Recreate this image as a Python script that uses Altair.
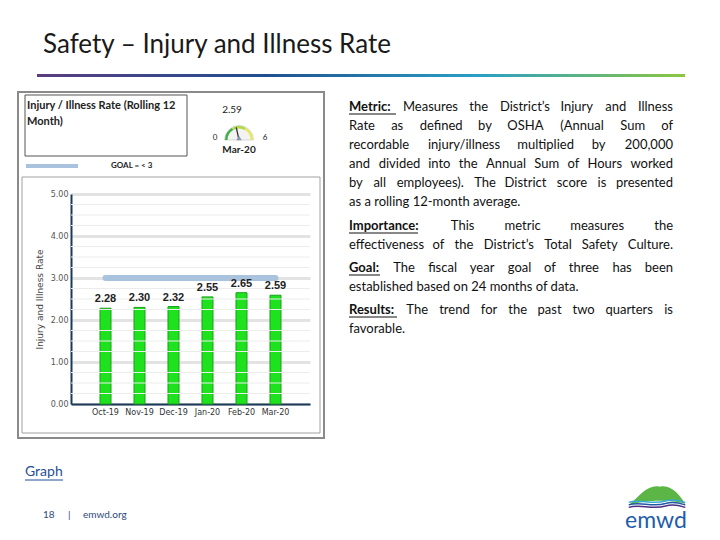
import math
import altair as alt
import pandas as pd

# ---------------- data ----------------
months = ["Oct-19", "Nov-19", "Dec-19", "Jan-20", "Feb-20", "Mar-20"]
rates = [2.28, 2.30, 2.32, 2.55, 2.65, 2.59]
goal_value = 3.0
y_ticks = [0, 1, 2, 3, 4, 5]
y_minor = [0.25, 0.5, 0.75, 1.25, 1.5, 1.75, 2.25, 2.5, 2.75,
           3.25, 3.5, 3.75, 4.25, 4.5, 4.75]
gauge_value = 2.59
gauge_min = 0
gauge_max = 6
gauge_month = "Mar-20"
gauge_bands = [(0, 2, "#3cb043"), (2, 4, "#b6d94c"), (4, 6, "#e9e95c")]

title_text = "Safety \u2013 Injury and Illness Rate"
box_title = ["Injury / Illness Rate (Rolling 12", "Month)"]
goal_label = "GOAL = < 3"
axis_title = "Injury and Illness Rate"

# paragraph lines: (y, text, justified); words marked with * are bold
para_lines = [
    (107, "*Metric: Measures the District\u2019s Injury and Illness", True),
    (126, "Rate as defined by OSHA (Annual Sum of", True),
    (145, "recordable injury/illness multiplied by 200,000", True),
    (164, "and divided into the Annual Sum of Hours worked", True),
    (183, "by all employees). The District score is presented", True),
    (202, "as a rolling 12-month average.", False),
    (226, "*Importance: This metric measures the", True),
    (245, "effectiveness of the District\u2019s Total Safety Culture.", True),
    (268, "*Goal: The fiscal year goal of three has been", True),
    (287, "established based on 24 months of data.", False),
    (310, "*Results: The trend for the past two quarters is", True),
    (329, "favorable.", False),
]
underlines = [(349, 396, 114), (349, 418, 233), (349, 380, 275), (349, 397, 317)]
PARA_LEFT, PARA_RIGHT = 349, 673
PARA_SIZE = 13

# approximate advance widths (em) of the text font, used only to justify lines
CW = {'a': .50, 'b': .55, 'c': .46, 'd': .55, 'e': .51, 'f': .31, 'g': .49, 'h': .55, 'i': .23,
      'j': .23, 'k': .50, 'l': .23, 'm': .83, 'n': .55, 'o': .55, 'p': .55, 'q': .55, 'r': .36,
      's': .42, 't': .34, 'u': .55, 'v': .50, 'w': .76, 'x': .48, 'y': .50, 'z': .44,
      'A': .67, 'C': .66, 'D': .72, 'G': .70, 'H': .73, 'I': .27, 'M': .87, 'O': .78, 'R': .61,
      'S': .52, 'T': .57, '.': .22, ',': .22, '(': .31, ')': .31, '/': .38, '-': .34, ':': .24,
      '\u2019': .22}


def word_width(w, bold):
    em = sum(CW.get(c, .58) for c in w)
    return em * PARA_SIZE * (1.06 if bold else 1.0)


# ---------------- layout ----------------
W, H = 239, 210
PL, PT = 63, 186
TOTAL_W, TOTAL_H = 702, 530
X0, Y0 = 8 + PL, 8 + PT
FONT = "Lato"

dummy = pd.DataFrame({"d": [0]})


def X(px):
    return px - X0


def Y(py):
    return py - Y0


def txt(s, px, py, size=13, weight="normal", color="#111111", font=FONT,
        align="left", baseline="middle"):
    return alt.Chart(dummy).mark_text(
        text=s, fontSize=size, fontWeight=weight, color=color, font=font,
        align=align, baseline=baseline
    ).encode(x=alt.value(X(px)), y=alt.value(Y(py)))


def frame(x1, y1, x2, y2, stroke, width):
    return alt.Chart(dummy).mark_rect(
        fill="white", fillOpacity=0, stroke=stroke, strokeWidth=width
    ).encode(x=alt.value(X(x1)), x2=alt.value(X(x2)), y=alt.value(Y(y1)), y2=alt.value(Y(y2)))


def hline(x1, x2, py, color, width, cap="butt"):
    return alt.Chart(dummy).mark_rule(color=color, strokeWidth=width, strokeCap=cap).encode(
        x=alt.value(X(x1)), x2=alt.value(X(x2)), y=alt.value(Y(py)))


layers = []

# title + gradient bar
layers.append(txt(title_text, 43, 45, size=26, color="#1a1a1a"))
grad = alt.LinearGradient(
    gradient="linear",
    stops=[alt.GradientStop(color="#5b3c80", offset=0),
           alt.GradientStop(color="#1f4f92", offset=0.35),
           alt.GradientStop(color="#2a9fc6", offset=0.68),
           alt.GradientStop(color="#8dc63f", offset=1)],
    x1=0, x2=1, y1=0, y2=0)
layers.append(alt.Chart(dummy).mark_rect(color=grad).encode(
    x=alt.value(X(37)), x2=alt.value(X(685)), y=alt.value(Y(74)), y2=alt.value(Y(77))))

# frames
layers.append(frame(18, 92, 324, 438, "#8a8a8a", 2))
layers.append(frame(22, 177, 320, 433, "#a0a0a0", 1))
layers.append(frame(25, 95, 187, 156, "#555555", 1))

# box title
layers.append(txt(box_title[0], 27, 106, size=11, weight="bold", color="#222222"))
layers.append(txt(box_title[1], 27, 122, size=11, weight="bold", color="#222222"))

# legend
layers.append(hline(26, 78, 166, "#a9c3de", 4))
layers.append(txt(goal_label, 111, 166, size=8, weight="bold", color="#222222"))

# gauge
gcx, gcy = 239, 140
base = 1.5 * math.pi


def gang(v):
    return base + (v - gauge_min) / (gauge_max - gauge_min) * math.pi


layers.append(alt.Chart(dummy).mark_arc(color="#f3f3f3", stroke="#b0b0b0", strokeWidth=0.5).encode(
    theta=alt.value(gang(gauge_min)), theta2=alt.value(gang(gauge_max)),
    radius=alt.value(14.5), radius2=alt.value(0), x=alt.value(X(gcx)), y=alt.value(Y(gcy))))
for a, b, c in gauge_bands:
    layers.append(alt.Chart(dummy).mark_arc(color=c).encode(
        theta=alt.value(gang(a)), theta2=alt.value(gang(b)),
        radius=alt.value(14), radius2=alt.value(11.5), x=alt.value(X(gcx)), y=alt.value(Y(gcy))))
na = gang(gauge_value) - base - math.pi / 2
layers.append(alt.Chart(dummy).mark_rule(color="#333333", strokeWidth=1.3).encode(
    x=alt.value(X(gcx)), y=alt.value(Y(gcy)),
    x2=alt.value(X(gcx + 13 * math.sin(na))), y2=alt.value(Y(gcy - 13 * math.cos(na)))))
layers.append(alt.Chart(dummy).mark_point(shape="triangle-up", filled=True, size=30,
                                          color="#8797ad", opacity=1).encode(
    x=alt.value(X(gcx)), y=alt.value(Y(gcy - 2))))
layers.append(txt(f"{gauge_value:.2f}", 232, 110, size=10, color="#222222", align="center"))
layers.append(txt(str(gauge_min), 215, 138, size=8, color="#222222", align="center"))
layers.append(txt(str(gauge_max), 265, 138, size=8, color="#222222", align="center"))
layers.append(txt(gauge_month, 239, 150, size=10, weight="bold", color="#222222", align="center"))

# ---------------- bar chart ----------------
df = pd.DataFrame({"month": months, "rate": rates})
df_goal = pd.DataFrame({"month": months, "rate": [goal_value] * len(months)})
df_minor = pd.DataFrame({"rate": y_minor})

yscale = alt.Scale(domain=[0, 5], nice=False, zero=True)
xenc = alt.X("month:N", sort=months,
             scale=alt.Scale(paddingInner=0.676, paddingOuter=0.853),
             axis=alt.Axis(title=None, labelAngle=0, labelFont="DejaVu Sans", labelFontSize=8,
                           labelColor="#333333", domainColor="#1b3a57", domainWidth=2,
                           ticks=False, labelPadding=4, grid=False))
yenc = alt.Y("rate:Q", scale=yscale,
             axis=alt.Axis(title=axis_title, values=y_ticks, format=".2f", grid=True,
                           gridColor="#e3e3e3", gridWidth=3, domainColor="#1b3a57",
                           domainWidth=2, ticks=False, labelPadding=3, labelFont="DejaVu Sans",
                           labelFontSize=8, labelColor="#555555", titleFont="DejaVu Sans",
                           titleFontSize=9, titleColor="#444444", titleFontWeight="normal",
                           titlePadding=6))

bars = alt.Chart(df).mark_bar(color="#1fe21f", stroke="#16a316", strokeWidth=1).encode(x=xenc, y=yenc)
minor = alt.Chart(df_minor).mark_rule(color="#ececec", strokeWidth=1).encode(
    y=alt.Y("rate:Q", scale=yscale))
goal_line = alt.Chart(df_goal).mark_line(color="#a9c3de", strokeWidth=6, strokeCap="round").encode(
    x=alt.X("month:N", sort=months), y=alt.Y("rate:Q", scale=yscale))
labels = alt.Chart(df).mark_text(baseline="bottom", dy=-4, font="Liberation Sans",
                                 fontWeight="bold", fontSize=11, color="#222222").encode(
    x=alt.X("month:N", sort=months), y=alt.Y("rate:Q", scale=yscale),
    text=alt.Text("rate:Q", format=".2f"))

main_layers = [bars, minor, goal_line, labels]

# ---------------- paragraph (justified word by word) ----------------
for py, line, justified in para_lines:
    raw = line.split(" ")
    words = [(w[1:], True) if w.startswith("*") else (w, False) for w in raw]
    if not justified:
        layers.append(txt(" ".join(w for w, _ in words), PARA_LEFT, py, size=PARA_SIZE))
        continue
    n = len(words)
    widths = [word_width(w, b) for w, b in words]
    gap = (PARA_RIGHT - PARA_LEFT - sum(widths)) / (n - 1)
    half = (n + 1) // 2
    for i, (w, b) in enumerate(words):
        wt = "bold" if b else "normal"
        if i < half:
            px = PARA_LEFT + sum(widths[:i]) + i * gap
            layers.append(txt(w, px, py, size=PARA_SIZE, weight=wt, align="left"))
        else:
            px = PARA_RIGHT - sum(widths[i + 1:]) - (n - 1 - i) * gap
            layers.append(txt(w, px, py, size=PARA_SIZE, weight=wt, align="right"))
for x1, x2, py in underlines:
    layers.append(hline(x1, x2, py, "#111111", 1))

# footer
layers.append(txt("Graph", 25, 472, size=14, color="#1f4e96"))
layers.append(hline(25, 63, 480, "#1f4e96", 1))
layers.append(txt("18", 43, 515, size=10, color="#2e4a7a"))
layers.append(txt("|", 68, 515, size=10, color="#2e4a7a"))
layers.append(txt("emwd.org", 83, 515, size=10, color="#2e4a7a"))

# logo
hill = "M -1 0.25 C -0.6 -0.1 -0.3 -0.5 0.1 -0.4 C 0.5 -0.5 0.8 -0.1 1 0.2 C 0.5 0.05 -0.4 0.05 -1 0.25 Z"
wave = "M -1 0.05 C -0.6 -0.1 -0.2 0.15 0.3 0.0 C 0.6 -0.1 0.85 0.0 1 0.05"
layers.append(alt.Chart(dummy).mark_point(shape=hill, filled=True, size=3200, color="#5cb646",
                                          opacity=1).encode(x=alt.value(X(657)), y=alt.value(Y(498))))
for dy, c in [(0, "#39a9d6"), (2.5, "#2457a6"), (5, "#4a2f82")]:
    layers.append(alt.Chart(dummy).mark_point(shape=wave, filled=False, size=3200, color=c,
                                              strokeWidth=1.5, opacity=1).encode(
        x=alt.value(X(657)), y=alt.value(Y(501 + dy))))
layers.append(txt("emwd", 656, 528, size=23, color="#1f5eaa", align="center", baseline="alphabetic"))

chart = alt.layer(*main_layers, *layers).properties(
    width=W, height=H,
    autosize=alt.AutoSizeParams(type="none"),
    padding={"left": PL, "top": PT, "right": TOTAL_W - PL - W, "bottom": TOTAL_H - PT - H},
    background="white",
).configure_view(strokeWidth=0)

chart.save("out.html", embed_options={"renderer": "svg", "actions": False})
